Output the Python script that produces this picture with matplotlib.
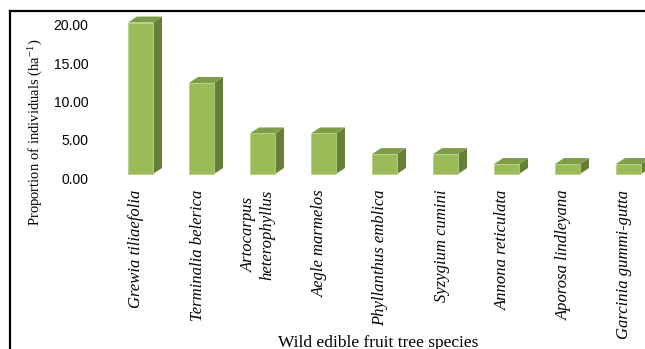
import matplotlib
matplotlib.use("Agg")
import matplotlib.pyplot as plt
from matplotlib.patches import Polygon, Rectangle
from matplotlib.lines import Line2D

species = [
    "Grewia tiliaefolia",
    "Terminalia belerica",
    "Artocarpus\nheterophyllus",
    "Aegle marmelos",
    "Phyllanthus emblica",
    "Syzygium cumini",
    "Annona reticulata",
    "Aporosa lindleyana",
    "Garcinia gummi-gutta",
]
density = [19.8, 11.9, 5.3, 5.3, 2.6, 2.6, 1.3, 1.3, 1.3]
yticks = [0, 5, 10, 15, 20]

FRONT = "#9bbb59"
TOP = "#7f9c47"
SIDE = "#667f37"

plt.rcParams["mathtext.fontset"] = "stix"

W, H, DPI = 645, 349, 100
fig = plt.figure(figsize=(W / DPI, H / DPI), dpi=DPI)

# plot area in pixels (left, top, right, bottom)
px_l, px_t, px_r, px_b = 100, 11, 645, 180
ax = fig.add_axes([px_l / W, 1 - px_b / H, (px_r - px_l) / W, (px_b - px_t) / H])

x_unit = 61.0   # px per category
y_unit = 7.65   # px per value unit
x0_px, y0_px = 140.5, 174.0
ax.set_xlim((px_l - x0_px) / x_unit, (px_r - x0_px) / x_unit)
ax.set_ylim(-(px_b - y0_px) / y_unit, (y0_px - px_t) / y_unit)

bar_w = 25 / x_unit
dx = 9 / x_unit
dy = 6 / y_unit

for i, v in enumerate(density):
    xl, xr = i - bar_w / 2, i + bar_w / 2
    ax.add_patch(Polygon([(xr, 0), (xr + dx, dy), (xr + dx, v + dy), (xr, v)],
                         closed=True, facecolor=SIDE, edgecolor="none"))
    ax.add_patch(Polygon([(xl, v), (xr, v), (xr + dx, v + dy), (xl + dx, v + dy)],
                         closed=True, facecolor=TOP, edgecolor="none"))
    ax.add_patch(Rectangle((xl, 0), bar_w, v, facecolor=FRONT,
                           edgecolor="#b9cf8a", linewidth=0.6))

for s in ax.spines.values():
    s.set_visible(False)

# value labels sit slightly below the floor line of the bars
ax.set_yticks([t - 4 / y_unit for t in yticks])
ax.set_yticklabels([f"{t:.2f}" for t in yticks], fontfamily="Liberation Sans", fontsize=10)
ax.tick_params(axis="y", length=0, pad=8.5)

ax.set_xticks([i - 4 / x_unit for i in range(len(species))])
ax.set_xticklabels(species, rotation=90, fontfamily="Liberation Serif", style="italic",
                   fontsize=12, va="top", ha="center", multialignment="center")
ax.tick_params(axis="x", length=0, pad=7)

fig.text(35 / W, 1 - 132 / H, r"Proportion of individuals (ha$^{\mathregular{-1}}$)",
         rotation=90, ha="center", va="center", fontfamily="Liberation Serif", fontsize=10.5)
fig.text(378 / W, 1 - 347 / H, "Wild edible fruit tree species",
         ha="center", va="baseline", fontfamily="Liberation Serif", fontsize=12.5)

# frame lines on the left and top
fig.add_artist(Line2D([10 / W, 10 / W], [0, 1 - 11 / H], color="black", lw=1.6,
                      transform=fig.transFigure))
fig.add_artist(Line2D([10 / W, 1], [1 - 11 / H, 1 - 11 / H], color="black", lw=1.6,
                      transform=fig.transFigure))

fig.savefig("out.png", dpi=DPI)
